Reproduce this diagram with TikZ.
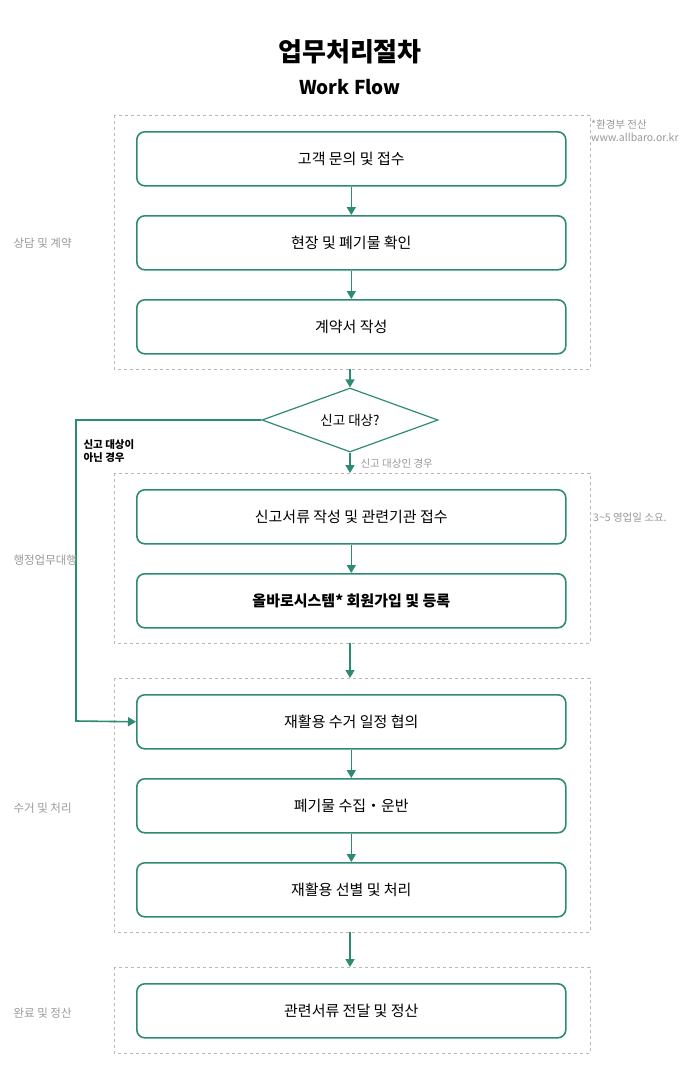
\documentclass[tikz,border=0pt]{standalone}
\usepackage{fontspec}
\setmainfont{Noto Sans CJK KR}
\usetikzlibrary{shapes.geometric,arrows.meta}
\definecolor{teal1}{HTML}{2E8B73}
\definecolor{gr}{HTML}{999999}
\begin{document}
\begin{tikzpicture}[x=1pt,y=-1pt,
  box/.style={draw=teal1,line width=1.6pt,rounded corners=8pt,minimum width=429pt,minimum height=54pt,font=\fontsize{15}{18}\selectfont,anchor=north west},
  grp/.style={draw=gr!70,dashed,line width=0.8pt},
  arr/.style={draw=teal1,line width=1.6pt,-{Triangle[length=8pt,width=9pt]}},
  side/.style={text=gr,font=\fontsize{11.5}{14}\selectfont,anchor=west},
  note/.style={text=gr,font=\fontsize{10.5}{13}\selectfont,anchor=north west,align=left}]
\useasboundingbox (0,0) rectangle (700,1090);
\node[font=\bfseries\fontsize{26}{30}\selectfont] (t1) at (350,52) {업무처리절차};
\node[font=\bfseries\fontsize{19}{22}\selectfont] (t2) at (350,87) {Work Flow};
\draw[grp] (114,115) rectangle (590,369);
\draw[grp] (114,473) rectangle (590,643);
\draw[grp] (114,678) rectangle (590,932);
\draw[grp] (114,967) rectangle (590,1053);
\coordinate (g1b) at (350,369); \coordinate (g2t) at (350,473);
\coordinate (g2b) at (350,643); \coordinate (g3t) at (350,678);
\coordinate (g3b) at (350,932); \coordinate (g4t) at (350,967);
\node[box] (b1) at (136,131) {고객 문의 및 접수};
\node[box] (b2) at (136,215) {현장 및 폐기물 확인};
\node[box] (b3) at (136,299) {계약서 작성};
\node[draw=teal1,line width=1.2pt,diamond,aspect=2.75,minimum width=176pt,minimum height=64pt,inner sep=0pt,font=\fontsize{13.5}{16}\selectfont] (d) at (350,420) {신고 대상?};
\node[box] (b4) at (136,489) {신고서류 작성 및 관련기관 접수};
\node[box,font=\bfseries\fontsize{15}{18}\selectfont] (b5) at (136,573) {올바로시스템* 회원가입 및 등록};
\node[box] (b6) at (136,694) {재활용 수거 일정 협의};
\node[box] (b7) at (136,778) {폐기물 수집・운반};
\node[box] (b8) at (136,862) {재활용 선별 및 처리};
\node[box] (b9) at (136,983) {관련서류 전달 및 정산};
\draw[arr] (b1) -- (b2); \draw[arr] (b2) -- (b3);
\draw[arr] (g1b) -- (d.north);
\draw[arr] (d.south) -- (g2t);
\draw[arr] (b4) -- (b5);
\draw[arr] (g2b) -- (g3t);
\draw[arr] (b6) -- (b7); \draw[arr] (b7) -- (b8);
\draw[arr] (g3b) -- (g4t);
\coordinate (c1) at (76,420); \coordinate (c2) at (76,721);
\draw[arr] (d.west) -- (c1) -- (c2) -- (b6.west);
\node[font=\bfseries\fontsize{10.5}{13}\selectfont,align=left,anchor=north west] (nl) at (80,436) {신고 대상이\\아닌 경우};
\node[text=gr,font=\fontsize{10.5}{13}\selectfont,anchor=west] (yl) at (357,464) {신고 대상인 경우};
\node[side] (s1) at (10,243) {상담 및 계약};
\node[side] (s2) at (10,560) {행정업무대행};
\node[side] (s3) at (10,808) {수거 및 처리};
\node[side] (s4) at (10,1013) {완료 및 정산};
\node[note,inner sep=0pt] (n1) at (591,120) {*환경부 전산\\www.allbaro.or.kr};
\node[note,inner sep=0pt,anchor=west] (n2) at (593,518) {3\textasciitilde5 영업일 소요.};
\end{tikzpicture}
\end{document}
